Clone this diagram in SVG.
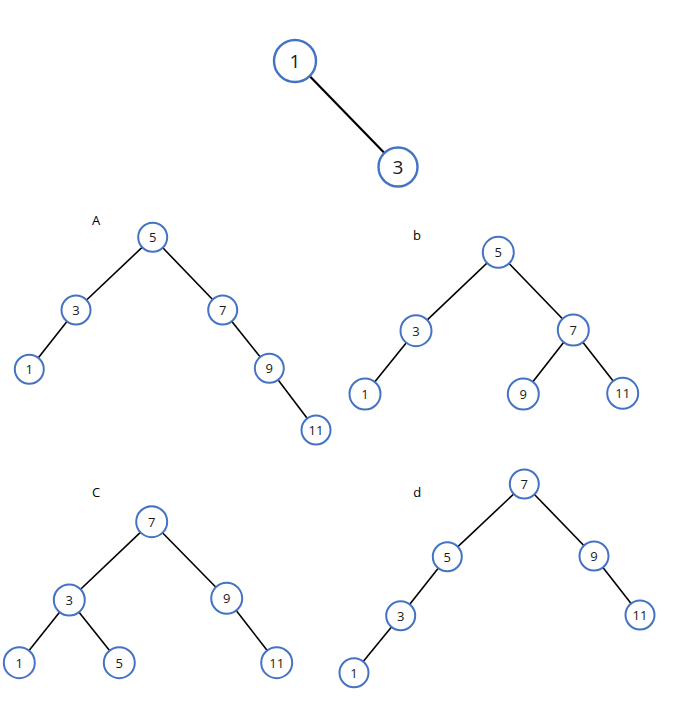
<svg xmlns="http://www.w3.org/2000/svg" width="699" height="707" viewBox="0 0 699 707">
<style>
.e{stroke:#000;stroke-width:1.6;fill:none}
.n circle{fill:#fff;stroke:#4472C4;stroke-width:2}
.n text{font-family:"Open Sans","Liberation Sans",sans-serif;font-size:13px;fill:#1a1a1a;text-anchor:middle;dominant-baseline:central}
.big circle{stroke-width:2.4}
.big text{font-size:19px}
.lbl{font-family:"Open Sans","Liberation Sans",sans-serif;font-size:13px;fill:#000;text-anchor:middle;dominant-baseline:central}
</style>
<rect width="699" height="707" fill="#fff"/>
<g id="connectors">
<line class="e" x1="295" y1="61" x2="398" y2="167" style="stroke-width:2.2"/>
<line class="e" x1="152.7" y1="237.3" x2="76" y2="310"/>
<line class="e" x1="152.7" y1="237.3" x2="222.7" y2="310"/>
<line class="e" x1="76" y1="310" x2="29.3" y2="369.3"/>
<line class="e" x1="222.7" y1="310" x2="269.3" y2="368.3"/>
<line class="e" x1="269.3" y1="368.3" x2="316" y2="430"/>
<line class="e" x1="498.3" y1="252.3" x2="416" y2="330.7"/>
<line class="e" x1="498.3" y1="252.3" x2="573.3" y2="330"/>
<line class="e" x1="416" y1="330.7" x2="365" y2="394"/>
<line class="e" x1="573.3" y1="330" x2="523.3" y2="394"/>
<line class="e" x1="573.3" y1="330" x2="622.7" y2="393.3"/>
<line class="e" x1="151.7" y1="521.7" x2="69.3" y2="600"/>
<line class="e" x1="151.7" y1="521.7" x2="226.7" y2="598.3"/>
<line class="e" x1="69.3" y1="600" x2="19.3" y2="662.7"/>
<line class="e" x1="69.3" y1="600" x2="119.3" y2="662.7"/>
<line class="e" x1="226.7" y1="598.3" x2="276.7" y2="662.7"/>
<line class="e" x1="524.3" y1="484" x2="447.3" y2="556.7"/>
<line class="e" x1="524.3" y1="484" x2="594" y2="556"/>
<line class="e" x1="447.3" y1="556.7" x2="400.7" y2="615.7"/>
<line class="e" x1="594" y1="556" x2="640" y2="615"/>
<line class="e" x1="400.7" y1="615.7" x2="354" y2="672.7"/>
</g>
<g id="top-1" class="n big"><circle cx="295" cy="61" r="21"/><text x="295" y="61">1</text></g>
<g id="top-3" class="n big"><circle cx="398" cy="167" r="19.5"/><text x="398" y="167">3</text></g>
<text class="lbl" x="96" y="220">A</text>
<g id="a5" class="n"><circle cx="152.7" cy="237.3" r="14.5"/><text x="152.7" y="237.3">5</text></g>
<g id="a3" class="n"><circle cx="76" cy="310" r="14.5"/><text x="76" y="310">3</text></g>
<g id="a7" class="n"><circle cx="222.7" cy="310" r="14.5"/><text x="222.7" y="310">7</text></g>
<g id="a1" class="n"><circle cx="29.3" cy="369.3" r="14.5"/><text x="29.3" y="369.3">1</text></g>
<g id="a9" class="n"><circle cx="269.3" cy="368.3" r="14.5"/><text x="269.3" y="368.3">9</text></g>
<g id="a11" class="n"><circle cx="316" cy="430" r="14.5"/><text x="316" y="430">11</text></g>
<text class="lbl" x="417" y="235">b</text>
<g id="b5" class="n"><circle cx="498.3" cy="252.3" r="15.5"/><text x="498.3" y="252.3">5</text></g>
<g id="b3" class="n"><circle cx="416" cy="330.7" r="15.5"/><text x="416" y="330.7">3</text></g>
<g id="b7" class="n"><circle cx="573.3" cy="330" r="15.5"/><text x="573.3" y="330">7</text></g>
<g id="b1" class="n"><circle cx="365" cy="394" r="15.5"/><text x="365" y="394">1</text></g>
<g id="b9" class="n"><circle cx="523.3" cy="394" r="15.5"/><text x="523.3" y="394">9</text></g>
<g id="b11" class="n"><circle cx="622.7" cy="393.3" r="15.5"/><text x="622.7" y="393.3">11</text></g>
<text class="lbl" x="96" y="492">C</text>
<g id="c7" class="n"><circle cx="151.7" cy="521.7" r="15.5"/><text x="151.7" y="521.7">7</text></g>
<g id="c3" class="n"><circle cx="69.3" cy="600" r="15.5"/><text x="69.3" y="600">3</text></g>
<g id="c9" class="n"><circle cx="226.7" cy="598.3" r="15.5"/><text x="226.7" y="598.3">9</text></g>
<g id="c1" class="n"><circle cx="19.3" cy="662.7" r="15.5"/><text x="19.3" y="662.7">1</text></g>
<g id="c5" class="n"><circle cx="119.3" cy="662.7" r="15.5"/><text x="119.3" y="662.7">5</text></g>
<g id="c11" class="n"><circle cx="276.7" cy="662.7" r="15.5"/><text x="276.7" y="662.7">11</text></g>
<text class="lbl" x="417.3" y="491.7">d</text>
<g id="d7" class="n"><circle cx="524.3" cy="484" r="14.5"/><text x="524.3" y="484">7</text></g>
<g id="d5" class="n"><circle cx="447.3" cy="556.7" r="14.5"/><text x="447.3" y="556.7">5</text></g>
<g id="d9" class="n"><circle cx="594" cy="556" r="14.5"/><text x="594" y="556">9</text></g>
<g id="d3" class="n"><circle cx="400.7" cy="615.7" r="14.5"/><text x="400.7" y="615.7">3</text></g>
<g id="d11" class="n"><circle cx="640" cy="615" r="14.5"/><text x="640" y="615">11</text></g>
<g id="d1" class="n"><circle cx="354" cy="672.7" r="14.5"/><text x="354" y="672.7">1</text></g>
</svg>
